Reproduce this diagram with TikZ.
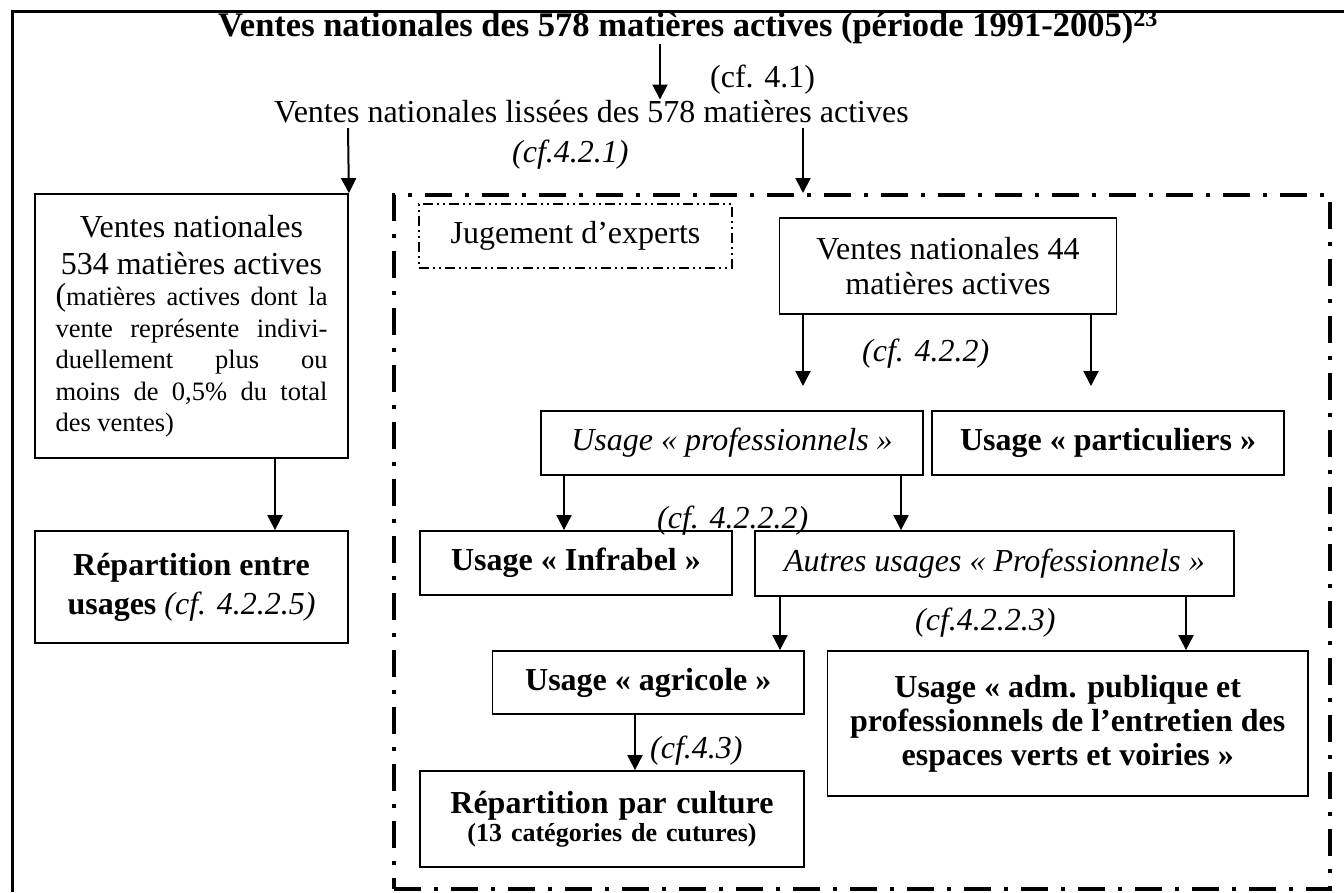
\documentclass[tikz,border=0pt]{standalone}
\usepackage{fontspec}
\setmainfont{Liberation Serif}
\usetikzlibrary{arrows.meta}
\begin{document}
\begin{tikzpicture}[x=1pt,y=-1pt,
  box/.style={draw, line width=1.8pt, inner sep=0pt, align=center, font=\fontsize{32}{35}\selectfont},
  txt/.style={inner sep=0pt, anchor=base west, font=\fontsize{32}{35}\selectfont},
  itxt/.style={txt, font=\fontsize{32}{35}\selectfont\itshape},
  arr/.style={line width=2pt, -{Triangle[length=15pt,width=15pt]}},
  grpbox/.style={draw, line width=4pt, inner sep=0pt, dash pattern=on 27pt off 13pt on 4pt off 13pt},
  expbox/.style={draw, line width=1.5pt, inner sep=0pt, dash pattern=on 10pt off 4pt on 2pt off 4pt on 2pt off 4pt, font=\fontsize{32}{35}\selectfont},
]
\useasboundingbox (0,0) rectangle (1344,892);

% outer frame
\draw[line width=3pt] (12,892) -- (12,11) -- (1344,11);

% top texts
\node[txt, font=\fontsize{34.5}{38}\selectfont\bfseries] (title) at (218,36)
  {Ventes nationales des 578 matières actives (période 1991-2005)\textsuperscript{23}};
\node[txt] (cf41) at (710,87) {(cf. 4.1)};
\node[txt, text depth=6pt] (lis) at (274,122) {Ventes nationales lissées des 578 matières actives};
\node[itxt] (cf421) at (512,162) {(cf.4.2.1)};

% group frame
\node[grpbox, minimum width=936pt, minimum height=694pt] (grp) at (862,542) {};

% left column
\node[box, text width=272pt, align=left, minimum width=313pt, minimum height=264pt] (b534) at (191.5,326) {%
  \parindent=0pt\spaceskip=0pt\xspaceskip=0pt
  {\centering\fontsize{32}{37}\selectfont Ventes nationales\\534 matières actives\par}%
  {\fontsize{26.5}{31.5}\selectfont
  \hbox to 272pt{{\fontsize{32}{31.5}\selectfont(}matières\hfill actives\hfill dont\hfill la}\par
  \hbox to 272pt{vente\hfill représente\hfill indivi-}\par
  \hbox to 272pt{duellement\hfill plus\hfill ou}\par
  \hbox to 272pt{moins\hfill de\hfill 0,5\%\hfill du\hfill total}\par
  \hbox to 272pt{des ventes)\hfill}\par}%
};
\node[box, font=\fontsize{32}{39}\selectfont\bfseries, minimum width=313pt, minimum height=112pt] (brep) at (191.5,587)
  {Répartition entre\\usages \textit{\mdseries (cf. 4.2.2.5)}};

% inside group
\node[expbox, minimum width=313pt, minimum height=64pt] (jug) at (575.5,236) {Jugement d’experts};
\node[box, minimum width=337pt, minimum height=96pt] (b44) at (948,266) {Ventes nationales 44\\matières actives};
\node[box, font=\fontsize{32}{35}\selectfont\itshape, minimum width=382pt, minimum height=64pt] (bprof) at (732,443) {Usage «~professionnels~»};
\node[box, font=\fontsize{32}{35}\selectfont\bfseries, minimum width=352pt, minimum height=64pt] (bpart) at (1108,443) {Usage «~particuliers~»};
\node[box, font=\fontsize{32}{35}\selectfont\bfseries, minimum width=312pt, minimum height=64pt] (binf) at (576,563) {Usage «~Infrabel~»};
\node[box, font=\fontsize{32}{35}\selectfont\itshape, minimum width=479pt, minimum height=65pt] (baut) at (994.5,563.5) {Autres usages «~Professionnels~»};
\node[box, font=\fontsize{32}{35}\selectfont\bfseries, minimum width=311.5pt, minimum height=63pt] (bagr) at (648.25,682.5) {Usage «~agricole~»};
\node[box, font=\fontsize{32}{34}\selectfont\bfseries, minimum width=480.5pt, minimum height=145pt] (badm) at (1067.75,723.5)
  {Usage «~adm. publique et\\professionnels de l’entretien des\\espaces verts et voiries~»};
\node[box, font=\fontsize{32}{35}\selectfont\bfseries, text width=384pt, minimum height=96pt] (bcult) at (612,819)
  {\spaceskip=0pt\xspaceskip=0pt Répartition par culture\par\fontsize{26}{28}\selectfont (13 catégories de cutures)\par};

% labels
\node[itxt] (cf422) at (862,361) {(cf. 4.2.2)};
\node[itxt] (cf4222) at (657,528) {(cf. 4.2.2.2)};
\node[itxt] (cf4223) at (915,630) {(cf.4.2.2.3)};
\node[itxt] (cf43) at (650,758) {(cf.4.3)};

% columns for connectors
\coordinate (cA) at (348,0);
\coordinate (cB) at (660,0);
\coordinate (cC) at (803,0);
\coordinate (cD) at (1091,0);
\coordinate (cE) at (564,0);
\coordinate (cF) at (901,0);
\coordinate (cG) at (780,0);
\coordinate (cH) at (1186,0);
\coordinate (cI) at (635,0);
\coordinate (cJ) at (275,0);
\coordinate (e1) at (803,386);
\coordinate (e2) at (1091,386);

% connectors
\draw[arr] (title.south -| cB) -- (lis.north -| cB);
\draw[arr] (lis.south -| cA) -- (b534.north east);
\draw[arr] (lis.south -| cC) -- (grp.north -| cC);
\draw[arr] (b44.south -| cC) -- (e1);
\draw[arr] (b44.south -| cD) -- (e2);
\draw[arr] (bprof.south -| cE) -- (binf.north -| cE);
\draw[arr] (bprof.south -| cF) -- (baut.north -| cF);
\draw[arr] (baut.south -| cG) -- (bagr.north -| cG);
\draw[arr] (baut.south -| cH) -- (badm.north -| cH);
\draw[arr] (bagr.south -| cI) -- (bcult.north -| cI);
\draw[arr] (b534.south -| cJ) -- (brep.north -| cJ);
\end{tikzpicture}
\end{document}
